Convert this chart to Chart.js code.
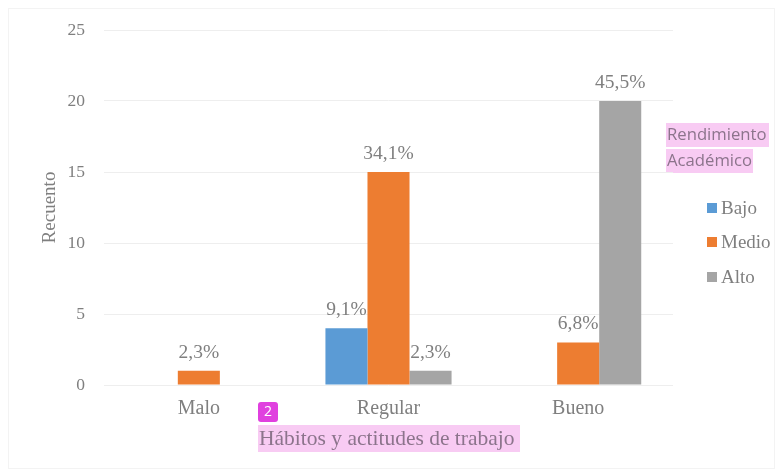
<!DOCTYPE html>
<html>
<head>
<meta charset="utf-8">
<script src="https://cdn.jsdelivr.net/npm/chart.js@4/dist/chart.umd.min.js"></script>
<style>
  html, body { margin: 0; padding: 0; background: #fff; }
  #wrap { width: 783px; height: 474px; position: relative; }
</style>
</head>
<body>
<div id="wrap"><canvas id="chart"></canvas></div>
<script>
// Data
const categories = ['Malo', 'Regular', 'Bueno'];
const seriesNames = ['Bajo', 'Medio', 'Alto'];
const bajoCounts = [0, 4, 0];
const medioCounts = [1, 15, 3];
const altoCounts = [0, 1, 20];
const bajoLabels = [null, '9,1%', null];
const medioLabels = ['2,3%', '34,1%', '6,8%'];
const altoLabels = [null, '2,3%', '45,5%'];
const yTicks = [0, 5, 10, 15, 20, 25];

const seriesColors = ['#5b9bd5', '#ed7d31', '#a5a5a5'];
const textGray = '#7f7f7f';
const serif = '"Liberation Serif", "Times New Roman", serif';
const highlight = '#f8cbf3';

// Percent labels above bars + legend + highlighted titles
const decorPlugin = {
    id: 'decor',
    beforeDraw(chart) {
        const ctx = chart.ctx;
        ctx.save();
        // faint outer frame
        ctx.strokeStyle = '#f3f3f3';
        ctx.lineWidth = 1;
        ctx.strokeRect(8.5, 8.5, 766, 460);
        // highlight boxes behind the titles
        ctx.fillStyle = highlight;
        ctx.fillRect(258, 425, 262, 27);
        ctx.fillRect(666, 123, 103, 24);
        ctx.fillRect(666, 149, 87, 24);
        ctx.restore();
    },
    afterDatasetsDraw(chart) {
        const ctx = chart.ctx;
        const labelSets = [bajoLabels, medioLabels, altoLabels];
        ctx.save();
        ctx.font = '19.5px ' + serif;
        ctx.fillStyle = textGray;
        ctx.textAlign = 'center';
        ctx.textBaseline = 'alphabetic';
        chart.data.datasets.forEach((ds, i) => {
            const meta = chart.getDatasetMeta(i);
            meta.data.forEach((bar, j) => {
                const txt = labelSets[i][j];
                if (!txt) return;
                ctx.fillText(txt, bar.x, bar.y - 13);
            });
        });
        ctx.restore();
    },
    afterDraw(chart) {
        const ctx = chart.ctx;
        ctx.save();
        // x axis title
        ctx.font = '21.5px ' + serif;
        ctx.fillStyle = '#8c748c';
        ctx.textAlign = 'left';
        ctx.textBaseline = 'middle';
        ctx.fillText('Hábitos y actitudes de trabajo', 259, 439);

        // little numbered badge
        ctx.fillStyle = '#e040df';
        ctx.beginPath();
        ctx.roundRect(258, 402, 20, 20, 3);
        ctx.fill();
        ctx.fillStyle = '#ffffff';
        ctx.font = '14px "Open Sans", sans-serif';
        ctx.textAlign = 'center';
        ctx.fillText('2', 268, 412);

        // legend title
        ctx.font = '16.7px "Open Sans", sans-serif';
        ctx.fillStyle = '#8c748c';
        ctx.textAlign = 'left';
        ctx.fillText('Rendimiento', 667, 135);
        ctx.fillText('Académico', 667, 161);

        // legend items
        const ys = [208, 242, 277];
        chart.data.datasets.forEach((ds, i) => {
            ctx.fillStyle = ds.backgroundColor;
            ctx.fillRect(707, ys[i] - 5, 10, 10);
            ctx.fillStyle = textGray;
            ctx.font = '19px ' + serif;
            ctx.fillText(ds.label, 721, ys[i] + 1);
        });
        ctx.restore();
    }
};

const ctx = document.getElementById('chart').getContext('2d');
new Chart(ctx, {
    type: 'bar',
    data: {
        labels: categories,
        datasets: [
            { label: seriesNames[0], data: bajoCounts, backgroundColor: seriesColors[0] },
            { label: seriesNames[1], data: medioCounts, backgroundColor: seriesColors[1] },
            { label: seriesNames[2], data: altoCounts, backgroundColor: seriesColors[2] }
        ]
    },
    options: {
        responsive: true,
        maintainAspectRatio: false,
        animation: false,
        layout: { padding: { left: 0, right: 110, top: 30, bottom: 0 } },
        datasets: { bar: { categoryPercentage: 0.665, barPercentage: 1.0, borderWidth: 0 } },
        plugins: {
            legend: { display: false },
            tooltip: { enabled: false }
        },
        scales: {
            x: {
                grid: { display: false, drawTicks: false },
                border: { display: false },
                ticks: {
                    color: textGray,
                    font: { family: serif, size: 20 },
                    padding: 12
                },
                afterFit(scale) { scale.height = 89; }
            },
            y: {
                min: 0,
                max: 25,
                afterBuildTicks(scale) { scale.ticks = yTicks.map(v => ({ value: v })); },
                grid: { color: '#eeeeee', drawTicks: false },
                border: { display: false },
                ticks: {
                    color: textGray,
                    font: { family: serif, size: 17.5 },
                    padding: 19
                },
                title: {
                    display: true,
                    text: 'Recuento',
                    color: textGray,
                    font: { family: serif, size: 19 },
                    padding: { top: 39, bottom: 0 }
                },
                afterFit(scale) { scale.width = 104; }
            }
        }
    },
    plugins: [decorPlugin]
});
</script>
</body>
</html>
